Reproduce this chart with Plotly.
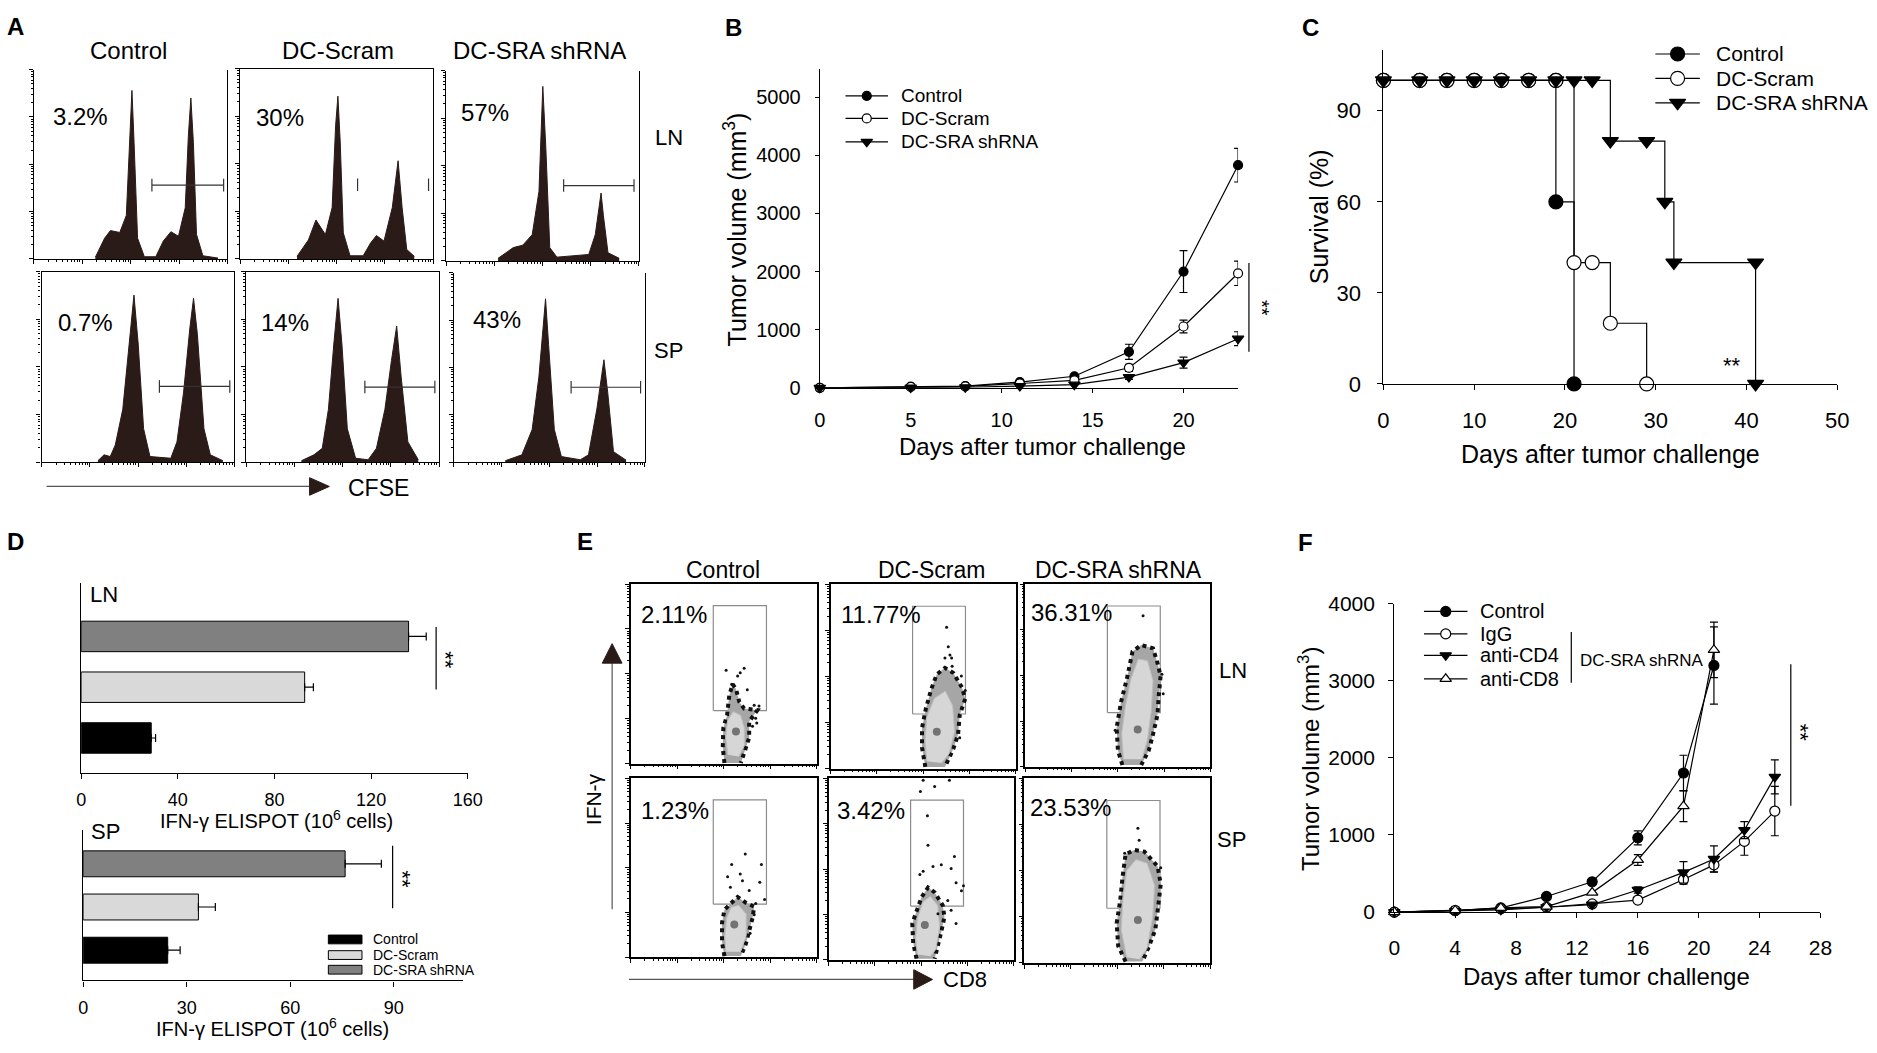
import math
import plotly.graph_objects as go

W, H = 1877, 1053
FONT = "Liberation Sans"
INK = "#000000"
HIST = "#2b1b18"

# ---------------- data ----------------
# A: CFSE histograms, x = position across the panel (0-100), y = height (0-100)
a_groups = ["Control", "DC-Scram", "DC-SRA shRNA"]
a_percent = ["3.2%", "30%", "57%", "0.7%", "14%", "43%"]

a_ln_control_x = [31.8, 36.6, 39.6, 44.4, 47.8, 49.6, 50.7, 51.8, 53.6, 57.1, 63.0, 66.9, 70.8, 74.7, 78.2, 79.8, 81.1, 82.4, 84.0, 87.3, 95.1]
a_ln_control_y = [0.9, 11, 15, 14, 23, 61.5, 89, 61.5, 11, 1.2, 1.2, 9.5, 14.4, 12, 27, 65, 85, 61.5, 13, 1.7, 0.5]
a_ln_scram_x = [29.4, 35.3, 39.2, 44.1, 47.6, 49.4, 50.6, 51.8, 53.4, 56.9, 63.7, 67.6, 70.6, 74.5, 78.8, 81.8, 83.9, 86.3, 90.2]
a_ln_scram_y = [1.4, 10, 20.5, 12.8, 27, 70, 85.5, 61.5, 13.7, 1.7, 1.7, 8.5, 12.3, 9.4, 27, 51.6, 27, 5, 1.4]
a_ln_sra_x = [27.0, 34.9, 39.8, 44.7, 48.2, 50.2, 51.8, 53.8, 57.5, 67.3, 74.0, 77.4, 79.4, 80.4, 81.6, 84.0, 89.8]
a_ln_sra_y = [1.4, 7, 8.3, 13.8, 36.5, 91.7, 58.6, 7, 2, 2.6, 3.4, 13.8, 27.6, 35.7, 24, 4.3, 1.4]
a_sp_control_x = [29.2, 32.4, 35.6, 38.2, 42.1, 45.6, 47.9, 50.1, 52.9, 56.2, 67.0, 70.2, 73.6, 76.9, 78.8, 80.8, 84.2, 87.5, 94.0]
a_sp_control_y = [0.7, 3.8, 2.9, 8.9, 27.7, 62, 87.7, 62, 17.5, 2.9, 2, 10.6, 36.3, 70.5, 86, 67, 17.5, 3.8, 0.7]
a_sp_scram_x = [28.6, 35.1, 39.4, 42.6, 45.4, 47.6, 49.6, 52.4, 56.7, 63.2, 67.5, 71.9, 75.3, 78.0, 80.3, 83.8, 89.2]
a_sp_scram_y = [0.7, 3.8, 7.2, 27.7, 62, 86, 62, 17.5, 2, 1.2, 7.2, 27.7, 53.4, 71.4, 45, 10.6, 1.2]
a_sp_sra_x = [26.9, 35.6, 41.0, 44.5, 46.7, 48.0, 49.6, 52.6, 56.3, 66.2, 70.5, 74.9, 78.6, 80.6, 83.6, 90.2]
a_sp_sra_y = [0.7, 3.8, 17.2, 44.8, 70.7, 86.2, 62, 17.2, 2.9, 1.2, 3.8, 28, 54, 36.6, 5.5, 1]

a_gate_left = [61.0, 60.8, 61.0, 61.1, 61.5, 61.4]
a_gate_right = [98.0, 97.6, 97.5, 97.6, 97.8, 97.8]
a_gate_level = [39.0, 39.0, 39.6, 39.7, 39.4, 39.5]

# B: tumour growth
b_names = ["Control", "DC-Scram", "DC-SRA shRNA"]
b_days = [0, 5, 8, 11, 14, 17, 20, 23]
b_control = [0, 20, 30, 100, 200, 620, 2000, 3830]
b_control_err = [0, 0, 0, 0, 0, 130, 360, 290]
b_scram = [0, 15, 25, 75, 130, 345, 1055, 1970]
b_scram_err = [0, 0, 0, 0, 0, 60, 110, 210]
b_sra = [0, 5, 10, 30, 55, 185, 435, 845]
b_sra_err = [0, 0, 0, 0, 0, 40, 95, 120]

# C: survival
c_names = ["Control", "DC-Scram", "DC-SRA shRNA"]
c_control_days = [0, 4, 7, 10, 13, 16, 19, 19, 21]
c_control_surv = [100, 100, 100, 100, 100, 100, 100, 60, 0]
c_scram_days = [0, 4, 7, 10, 13, 16, 19, 21, 23, 25, 29]
c_scram_surv = [100, 100, 100, 100, 100, 100, 100, 40, 40, 20, 0]
c_sra_days = [0, 4, 7, 10, 13, 16, 19, 21, 23, 25, 29, 31, 32, 41, 41]
c_sra_surv = [100, 100, 100, 100, 100, 100, 100, 100, 100, 80, 80, 60, 40, 40, 0]

# D: IFN-gamma ELISPOT
d_groups = ["Control", "DC-Scram", "DC-SRA shRNA"]
d_colors = ["#000000", "#d9d9d9", "#808080"]
d_ln = [29.0, 92.5, 135.5]
d_ln_err = [1.8, 3.6, 7.3]
d_sp = [24.5, 33.4, 75.9]
d_sp_err = [3.6, 4.9, 10.5]

# E: IFN-gamma / CD8 dot plots (0-100 on both axes)
e_percent = ["2.11%", "11.77%", "36.31%", "1.23%", "3.42%", "23.53%"]
e_gate_x = [44.3, 72.9]
e_gate_y = [29.6, 88.0]

e_ln_control_edge_x = [50.3, 49.4, 49.7, 51.7, 52.9, 54.7, 56.5, 58.3, 60.9, 68.0, 63.6, 63.6, 61.3, 59.1]
e_ln_control_edge_y = [0.4, 9, 19.9, 27, 38, 44.3, 41.6, 34.4, 30.7, 29.8, 23.5, 14.5, 7.2, 0.4]
e_ln_control_core_x = [52, 51, 52, 55, 59, 61, 61, 58]
e_ln_control_core_y = [5, 15, 24, 29, 27, 20, 10, 4]
e_ln_control_dots_x = [51.2, 58.8, 60.9, 57.4, 62.6, 54.2, 66.3, 68.9, 67.1, 67.7, 65.4]
e_ln_control_dots_y = [52, 50.6, 53.2, 48.8, 41.2, 44.3, 32.5, 32.2, 25.3, 22.6, 20.8]

e_ln_scram_edge_x = [51.2, 49.4, 49.4, 51.5, 54.4, 57.4, 61.8, 66.3, 71.0, 72.8, 69.8, 68.9, 66.3, 61.8]
e_ln_scram_edge_y = [0.9, 11.4, 22, 32.6, 43.1, 51.1, 54.6, 51.9, 44, 37.9, 29, 18.5, 10.6, 0.9]
e_ln_scram_core_x = [52, 51, 52, 56, 62, 66, 67, 64, 60]
e_ln_scram_core_y = [4, 15, 28, 38, 42, 34, 20, 8, 3]
e_ln_scram_dots_x = [62.7, 63.6, 64.5, 61.8, 65.4, 65.7, 70.7, 72.8, 69.8]
e_ln_scram_dots_y = [76.6, 66, 61.6, 59.9, 59.9, 55.5, 50.2, 42.3, 16.7]

e_ln_sra_edge_x = [52.4, 50, 49.3, 51.7, 54.8, 57.9, 62.6, 69, 71.4, 73.1, 72.1, 71.4, 69, 66.7, 62.6]
e_ln_sra_edge_y = [0.9, 8.9, 21.3, 35.5, 48, 63.1, 66.6, 64.8, 56.8, 49.7, 39.1, 28.4, 17.8, 8.9, 0.9]
e_ln_sra_core_x = [53, 52, 54, 57, 61, 66, 69, 68, 66, 63]
e_ln_sra_core_y = [4, 18, 33, 48, 59, 58, 47, 30, 15, 4]
e_ln_sra_dots_x = [63.6, 73.8, 74.5, 48.5]
e_ln_sra_dots_y = [82.6, 50.6, 40, 20]

e_sp_control_edge_x = [50.3, 49, 49, 50.3, 53.8, 57.4, 61.8, 66.3, 65.4, 63.6, 61.8, 59.1]
e_sp_control_edge_y = [0.5, 8.2, 19.1, 26.4, 30, 33.6, 30.4, 28.2, 21.8, 14.5, 7.3, 0.5]
e_sp_control_core_x = [51, 50.5, 51.5, 54, 58, 62, 62, 59]
e_sp_control_core_y = [3, 12, 22, 28, 29, 24, 12, 3]
e_sp_control_dots_x = [61.5, 54.2, 70.2, 58.8, 52, 60, 53.5, 63.6, 69.3, 71.9, 67.1, 66.3, 64.1]
e_sp_control_dots_y = [57.6, 51.8, 51.8, 46.4, 44.9, 42.7, 39.1, 37.3, 41.8, 32.2, 30, 23.6, 13.3]

e_sp_scram_edge_x = [47.5, 45.7, 45.2, 47.5, 50.2, 53.7, 57.3, 61.7, 62.6, 60.9, 59.1, 57.3]
e_sp_scram_edge_y = [0.7, 9.3, 20.1, 27.3, 34.5, 39.9, 37.2, 30, 23.7, 15.6, 7.5, 0.7]
e_sp_scram_core_x = [48, 47, 48, 51, 55, 59, 60, 58, 55]
e_sp_scram_core_y = [3, 12, 23, 32, 35, 30, 18, 6, 2]
e_sp_scram_dots_x = [51.1, 57.3, 65.3, 49.6, 53.4, 53.7, 68, 56.4, 60.9, 49.3, 51.1, 66.2, 68.9, 72.9, 71.8, 64.4, 66.2, 68.9, 59.1]
e_sp_scram_dots_y = [99, 95.5, 99, 92.8, 79.4, 63.2, 56.9, 51.5, 52.4, 47, 48.8, 50.3, 42.5, 40.8, 38.1, 32.7, 27.3, 20.1, 25.5]

e_sp_sra_edge_x = [54.4, 50.4, 49.6, 51.5, 52.7, 54.4, 59.1, 64.5, 71.6, 73.3, 71.9, 70.4, 67.1, 63.4]
e_sp_sra_edge_y = [0.7, 9.2, 21.5, 33.9, 46.2, 58.9, 61.2, 60.3, 52.4, 42.7, 30.3, 18, 9.2, 0.7]
e_sp_sra_core_x = [55, 52, 53, 55, 60, 66, 70, 69, 66, 62]
e_sp_sra_core_y = [3, 18, 35, 50, 56, 54, 42, 25, 8, 2]
e_sp_sra_dots_x = [61, 61.7, 53.9, 73.3]
e_sp_sra_dots_y = [73, 66.5, 59.4, 51.5]

e_spot_x = [56.5, 57.4, 60.7, 55.6, 52.0, 61.0]
e_spot_y = [18.0, 20.0, 20.4, 18.2, 19.2, 23.3]

# F: depletion experiment
f_names = ["Control", "IgG", "anti-CD4", "anti-CD8"]
f_days = [0, 4, 7, 10, 13, 16, 19, 21, 23, 25]
f_control = [0, 21, 55, 203, 393, 963, 1804, 3198]
f_control_err = [0, 0, 0, 0, 0, 90, 230, 500]
f_igg = [0, 21, 42, 63, 106, 156, 422, 612, 917, 1310]
f_igg_err = [0, 0, 0, 0, 0, 0, 60, 90, 180, 320]
f_cd4 = [0, 13, 30, 63, 97, 287, 515, 689, 1064, 1753]
f_cd4_err = [0, 0, 0, 0, 0, 40, 140, 170, 110, 220]
f_cd8 = [0, 21, 55, 72, 253, 676, 1373, 3400]
f_cd8_err = [0, 0, 0, 0, 0, 70, 200, 360]

# ---------------- helpers ----------------
fig = go.Figure()
notes = []
shapes = []


def names(n):
    s = "" if n == 1 else str(n)
    return "xaxis" + s, "yaxis" + s, "x" + s, "y" + s


def base_axis(**kw):
    d = dict(showgrid=False, zeroline=False, showline=True, linecolor=INK, linewidth=1.2,
             ticks="outside", tickcolor=INK, tickwidth=1.2, ticklen=5,
             tickfont=dict(family=FONT, size=20, color=INK), fixedrange=True)
    d.update(kw)
    return d


def add_axes(n, box, xkw, ykw):
    x0, y0, x1, y1 = box
    xa, ya, xr, yr = names(n)
    fig.update_layout({xa: base_axis(domain=[x0 / W, x1 / W], anchor=yr, **xkw),
                       ya: base_axis(domain=[1 - y1 / H, 1 - y0 / H], anchor=xr, **ykw)})
    return xr, yr


def note(text, x, y, size, xanchor="center", angle=0, bold=False):
    if bold:
        text = "<b>" + text + "</b>"
    notes.append(dict(text=text, x=x / W, y=1 - y / H, xref="paper", yref="paper",
                      showarrow=False, xanchor=xanchor, yanchor="middle", textangle=angle,
                      font=dict(family=FONT, size=size, color=INK)))


def pline(x0, y0, x1, y1, color=INK, width=1.2):
    shapes.append(dict(type="line", xref="paper", yref="paper", x0=x0 / W, y0=1 - y0 / H,
                       x1=x1 / W, y1=1 - y1 / H, line=dict(color=color, width=width)))


def ptri(pts, color=HIST):
    path = "M " + " L ".join(f"{x / W:.5f},{1 - y / H:.5f}" for x, y in pts) + " Z"
    shapes.append(dict(type="path", xref="paper", yref="paper", path=path,
                       fillcolor=color, line=dict(color=color, width=1)))


def prect(x0, y0, x1, y1, fill):
    shapes.append(dict(type="rect", xref="paper", yref="paper", x0=x0 / W, y0=1 - y1 / H,
                       x1=x1 / W, y1=1 - y0 / H, fillcolor=fill, line=dict(color=INK, width=1)))


log_major = [0, 25, 50, 75, 100]
log_minor = [25 * (d + math.log10(k)) for d in range(4) for k in range(2, 10)]
flow_x = dict(range=[0, 100], tickvals=log_major, ticklen=4, showticklabels=False,
              minor=dict(tickvals=log_minor, ticklen=2, ticks="outside", tickcolor=INK))
flow_y = dict(range=[0, 100], tickvals=log_major, ticklen=4, showticklabels=False,
              minor=dict(tickvals=log_minor, ticklen=2, ticks="outside", tickcolor=INK))

# overlay in page pixels, used only for the hand-drawn legend keys
fig.update_layout(xaxis99=dict(domain=[0, 1], range=[0, W], visible=False, fixedrange=True, anchor="y99"),
                  yaxis99=dict(domain=[0, 1], range=[H, 0], visible=False, fixedrange=True, anchor="x99"))


def legend_key(x0, x1, y, symbol, fill, size, label, fsize, tx):
    fig.add_trace(go.Scatter(x=[x0, x1], y=[y, y], mode="lines",
                             line=dict(color=INK, width=1.2), xaxis="x99", yaxis="y99",
                             showlegend=False, hoverinfo="skip"))
    fig.add_trace(go.Scatter(x=[(x0 + x1) / 2], y=[y], mode="markers",
                             marker=dict(symbol=symbol, size=size, color=fill, line=dict(color=INK, width=1.2)),
                             xaxis="x99", yaxis="y99", showlegend=False, hoverinfo="skip"))
    note(label, tx, y, fsize, xanchor="left")


# ---------------- A: CFSE histograms ----------------
a_boxes = [(28, 59, 224, 253), (237, 58, 432, 253), (445, 60, 640, 255),
           (36, 266, 231, 461), (243, 266, 438, 461), (453, 267, 646, 461)]
a_closed = [False, True, False, True, True, False]
a_hist_x = [a_ln_control_x, a_ln_scram_x, a_ln_sra_x, a_sp_control_x, a_sp_scram_x, a_sp_sra_x]
a_hist_y = [a_ln_control_y, a_ln_scram_y, a_ln_sra_y, a_sp_control_y, a_sp_scram_y, a_sp_sra_y]
a_pct_pos = [(46, 107), (251, 108), (458, 103), (51, 318), (256, 318), (470, 315)]

for i in range(6):
    n = i + 1
    xr, yr = add_axes(n, a_boxes[i], dict(flow_x, mirror=a_closed[i]), dict(flow_y, mirror=True))
    fig.add_trace(go.Scatter(x=a_hist_x[i], y=a_hist_y[i], mode="lines", fill="tozeroy",
                             fillcolor=HIST, line=dict(color=HIST, width=1),
                             xaxis=xr, yaxis=yr, showlegend=False, hoverinfo="skip"))
    gx = [a_gate_left[i], a_gate_right[i]]
    gy = [a_gate_level[i], a_gate_level[i]]
    fig.add_trace(go.Scatter(x=gx, y=gy, mode="markers" if i == 1 else "lines+markers",
                             line=dict(color="#333333", width=1.2),
                             marker=dict(symbol="line-ns-open", size=9,
                                         line=dict(color="#333333", width=1.2)),
                             xaxis=xr, yaxis=yr, showlegend=False, hoverinfo="skip",
                             cliponaxis=False))
    note(a_percent[i], a_pct_pos[i][0], a_pct_pos[i][1], 24, xanchor="left")

note("A", 10, 15, 24, bold=True)
for g, x in zip(a_groups, [124, 336, 540]):
    note(g, x, 39, 24)
note("LN", 671, 129, 22)
note("SP", 670, 347, 22)
pline(41, 486, 309, 486, color="#555555")
ptri([(307, 477), (327, 486), (307, 495)])
note("CFSE", 377, 488, 23)

# ---------------- B: tumour volume ----------------
xr, yr = add_axes(7, (823, 58, 1246, 385),
                  dict(range=[0, 23], tickvals=[0, 5, 10, 15, 20], ticklen=4, ticklabelstandoff=10),
                  dict(range=[0, 5490], tickvals=[0, 1000, 2000, 3000, 4000, 5000], ticklen=4,
                       ticklabelstandoff=10))
b_vals = [b_control, b_scram, b_sra]
b_errs = [b_control_err, b_scram_err, b_sra_err]
b_syms = [("circle", INK, 9), ("circle", "white", 9), ("triangle-down", INK, 10)]
for k in range(3):
    sym, col, sz = b_syms[k]
    fig.add_trace(go.Scatter(x=b_days, y=b_vals[k], name=b_names[k], mode="lines+markers",
                             line=dict(color=INK, width=1.2),
                             marker=dict(symbol=sym, size=sz, color=col, line=dict(color=INK, width=1.2)),
                             error_y=dict(type="data", array=b_errs[k], color=INK, thickness=1.2, width=4),
                             xaxis=xr, yaxis=yr, showlegend=False, cliponaxis=False))
    legend_key(849, 892, [86, 109, 133][k], sym, col, sz, b_names[k], 19, 903)
note("B", 736, 16, 24, bold=True)
note("Days after tumor challenge", 1048, 445, 24)
note("Tumor volume (mm<sup>3</sup>)", 737, 223, 25, angle=-90)
pline(1257, 257, 1257, 348)
note("**", 1270, 303, 20, angle=90)

# ---------------- C: survival ----------------
xr, yr = add_axes(8, (1393, 39, 1852, 381),
                  dict(range=[0, 50], tickvals=[0, 10, 20, 30, 40, 50], ticklen=5,
                       ticklabelstandoff=12, tickfont=dict(family=FONT, size=22, color=INK)),
                  dict(range=[0, 110], tickvals=[0, 30, 60, 90], ticklen=5,
                       ticklabelstandoff=12, tickfont=dict(family=FONT, size=22, color=INK)))
c_days = [c_control_days, c_scram_days, c_sra_days]
c_surv = [c_control_surv, c_scram_surv, c_sra_surv]
c_syms = [("circle", INK), ("circle", "white"), ("triangle-down", INK)]
for k in range(3):
    sym, col = c_syms[k]
    fig.add_trace(go.Scatter(x=c_days[k], y=c_surv[k], name=c_names[k], mode="lines+markers", line_shape="hv",
                             line=dict(color=INK, width=1.2),
                             marker=dict(symbol=sym, size=14, color=col, line=dict(color=INK, width=1.2)),
                             xaxis=xr, yaxis=yr, showlegend=False, cliponaxis=False))
    legend_key(1668, 1713, [43, 68, 93][k], sym, col, 14, c_names[k], 21, 1727)
notes.append(dict(text="**", x=38.4, y=6, xref=xr, yref=yr, showarrow=False,
                  font=dict(family=FONT, size=22, color=INK)))
note("C", 1319, 16, 24, bold=True)
note("Days after tumor challenge", 1623, 453, 25)
note("Survival (%)", 1328, 210, 25, angle=-90)

# ---------------- D: ELISPOT bars ----------------
d_axes = [(9, (76, 585, 467, 779), [0, 160], [0, 40, 80, 120, 160], [-0.68, 3.05], d_ln, d_ln_err),
          (10, (78, 838, 462, 992), [0, 110], [0, 30, 60, 90], [-0.70, 2.78], d_sp, d_sp_err)]
for n, box, xrng, xt, yrng, vals, err in d_axes:
    xr, yr = add_axes(n, box,
                      dict(range=xrng, tickvals=xt, ticklen=5, ticklabelstandoff=6,
                           tickfont=dict(family=FONT, size=18, color=INK)),
                      dict(range=yrng, type="category", categoryorder="array", categoryarray=d_groups,
                           ticks="", showticklabels=False))
    fig.add_trace(go.Bar(x=vals, y=d_groups, orientation="h", width=0.6,
                         marker=dict(color=d_colors, line=dict(color=INK, width=1)),
                         error_x=dict(type="data", array=err, arrayminus=[0, 0, 0], symmetric=False,
                                      color=INK, thickness=1.2, width=4),
                         xaxis=xr, yaxis=yr, showlegend=False, hoverinfo="skip"))
note("D", 10, 542, 24, bold=True)
note("LN", 83, 597, 22, xanchor="left")
note("SP", 84, 839, 22, xanchor="left")
note("IFN-γ ELISPOT (10<sup>6</sup> cells)", 274, 827, 20)
note("IFN-γ ELISPOT (10<sup>6</sup> cells)", 270, 1040, 20)
pline(435, 630, 435, 694)
note("**", 445, 664, 22, angle=90)
pline(391, 854, 391, 918)
note("**", 401, 888, 22, angle=90)
for k, y in enumerate([950, 966, 981]):
    prect(326, y - 4.5, 360, y + 4.5, d_colors[k])
    note(d_groups[k], 369, y, 14, xanchor="left")

# ---------------- E: dot plots ----------------
e_boxes = [(632, 586, 820, 770), (834, 586, 1021, 775), (1031, 586, 1218, 773),
           (632, 785, 820, 968), (832, 785, 1019, 971), (1030, 785, 1218, 974)]
e_edge_x = [e_ln_control_edge_x, e_ln_scram_edge_x, e_ln_sra_edge_x, e_sp_control_edge_x, e_sp_scram_edge_x, e_sp_sra_edge_x]
e_edge_y = [e_ln_control_edge_y, e_ln_scram_edge_y, e_ln_sra_edge_y, e_sp_control_edge_y, e_sp_scram_edge_y, e_sp_sra_edge_y]
e_core_x = [e_ln_control_core_x, e_ln_scram_core_x, e_ln_sra_core_x, e_sp_control_core_x, e_sp_scram_core_x, e_sp_sra_core_x]
e_core_y = [e_ln_control_core_y, e_ln_scram_core_y, e_ln_sra_core_y, e_sp_control_core_y, e_sp_scram_core_y, e_sp_sra_core_y]
e_dots_x = [e_ln_control_dots_x, e_ln_scram_dots_x, e_ln_sra_dots_x, e_sp_control_dots_x, e_sp_scram_dots_x, e_sp_sra_dots_x]
e_dots_y = [e_ln_control_dots_y, e_ln_scram_dots_y, e_ln_sra_dots_y, e_sp_control_dots_y, e_sp_scram_dots_y, e_sp_sra_dots_y]
e_pct_pos = [(640, 617), (842, 617), (1035, 615), (640, 818), (838, 818), (1034, 815)]

gx0, gx1 = e_gate_x
gy0, gy1 = e_gate_y
for i in range(6):
    n = 11 + i
    xr, yr = add_axes(n, e_boxes[i], dict(flow_x, mirror=True, linewidth=1.5),
                      dict(flow_y, mirror=True, linewidth=1.5))
    fig.add_trace(go.Scatter(x=[gx0, gx1, gx1, gx0, gx0], y=[gy0, gy0, gy1, gy1, gy0], mode="lines",
                             line=dict(color="#8c8c8c", width=1.2), xaxis=xr, yaxis=yr,
                             showlegend=False, hoverinfo="skip"))
    fig.add_trace(go.Scatter(x=e_edge_x[i], y=e_edge_y[i], mode="lines", fill="toself",
                             fillcolor="#a6a6a6", line=dict(color="#111111", width=4, dash="dot"),
                             xaxis=xr, yaxis=yr, showlegend=False, hoverinfo="skip"))
    fig.add_trace(go.Scatter(x=e_core_x[i], y=e_core_y[i], mode="lines", fill="toself",
                             fillcolor="#d6d6d6", line=dict(color="#bdbdbd", width=1),
                             xaxis=xr, yaxis=yr, showlegend=False, hoverinfo="skip"))
    fig.add_trace(go.Scatter(x=[e_spot_x[i]], y=[e_spot_y[i]], mode="markers",
                             marker=dict(color="#5a5a5a", size=8, opacity=0.8),
                             xaxis=xr, yaxis=yr, showlegend=False, hoverinfo="skip"))
    fig.add_trace(go.Scatter(x=e_dots_x[i], y=e_dots_y[i], mode="markers",
                             marker=dict(color="#111111", size=3),
                             xaxis=xr, yaxis=yr, showlegend=False, hoverinfo="skip", cliponaxis=False))
    note(e_percent[i], e_pct_pos[i][0], e_pct_pos[i][1], 24, xanchor="left")

note("E", 586, 542, 24, bold=True)
for g, x in zip(a_groups, [725, 936, 1125]):
    note(g, x, 572, 23)
note("LN", 1241, 675, 22)
note("SP", 1239, 848, 22)
pline(613, 919, 613, 667, color="#555555")
ptri([(603, 667), (613, 647), (623, 667)])
note("IFN-γ", 595, 806, 21, angle=-90)
pline(630, 991, 919, 991, color="#555555")
ptri([(918, 981), (937, 991), (918, 1001)])
note("CD8", 970, 991, 22)

# ---------------- F: depletion ----------------
xr, yr = add_axes(17, (1404, 606, 1835, 922),
                  dict(range=[0, 28], tickvals=[0, 4, 8, 12, 16, 20, 24, 28], ticklen=5,
                       ticklabelstandoff=12, tickfont=dict(family=FONT, size=21, color=INK)),
                  dict(range=[0, 4000], tickvals=[0, 1000, 2000, 3000, 4000], ticklen=5,
                       ticklabelstandoff=9, tickfont=dict(family=FONT, size=21, color=INK)))
f_x = [f_days[:8], f_days, f_days, f_days[:8]]
f_vals = [f_control, f_igg, f_cd4, f_cd8]
f_errs = [f_control_err, f_igg_err, f_cd4_err, f_cd8_err]
f_syms = [("circle", INK), ("circle", "white"), ("triangle-down", INK), ("triangle-up", "white")]
for k in range(4):
    sym, col = f_syms[k]
    fig.add_trace(go.Scatter(x=f_x[k], y=f_vals[k], name=f_names[k], mode="lines+markers",
                             line=dict(color=INK, width=1.2),
                             marker=dict(symbol=sym, size=10, color=col, line=dict(color=INK, width=1.2)),
                             error_y=dict(type="data", array=f_errs[k], color=INK, thickness=1.2, width=4),
                             xaxis=xr, yaxis=yr, showlegend=False, cliponaxis=False))
    legend_key(1434, 1478, [614, 637, 659, 683][k], sym, col, 10, f_names[k], 20, 1489)
note("F", 1314, 543, 24, bold=True)
note("Days after tumor challenge", 1619, 988, 24)
note("Tumor volume (mm<sup>3</sup>)", 1318, 765, 24, angle=-90)
pline(1583, 635, 1583, 687)
note("DC-SRA shRNA", 1590, 664, 17, xanchor="left")
pline(1805, 668, 1805, 813)
note("**", 1815, 738, 22, angle=90)

# ---------------- layout ----------------
fig.update_layout(
    width=W, height=H, margin=dict(l=0, r=0, t=0, b=0),
    paper_bgcolor="white", plot_bgcolor="rgba(0,0,0,0)",
    font=dict(family=FONT, color=INK), showlegend=False,
    annotations=notes, shapes=shapes,
)

# pin the figure to the top-left corner of the window, with no page margin or scrollbars
pin = ("var d=document.getElementById('{plot_id}');"
       "d.style.position='fixed';d.style.left='0px';d.style.top='0px';"
       "document.body.style.margin='0px';"
       "document.documentElement.style.overflow='hidden';document.body.style.overflow='hidden';")
fig.write_html("out.html", config={"displayModeBar": False}, post_script=pin)
